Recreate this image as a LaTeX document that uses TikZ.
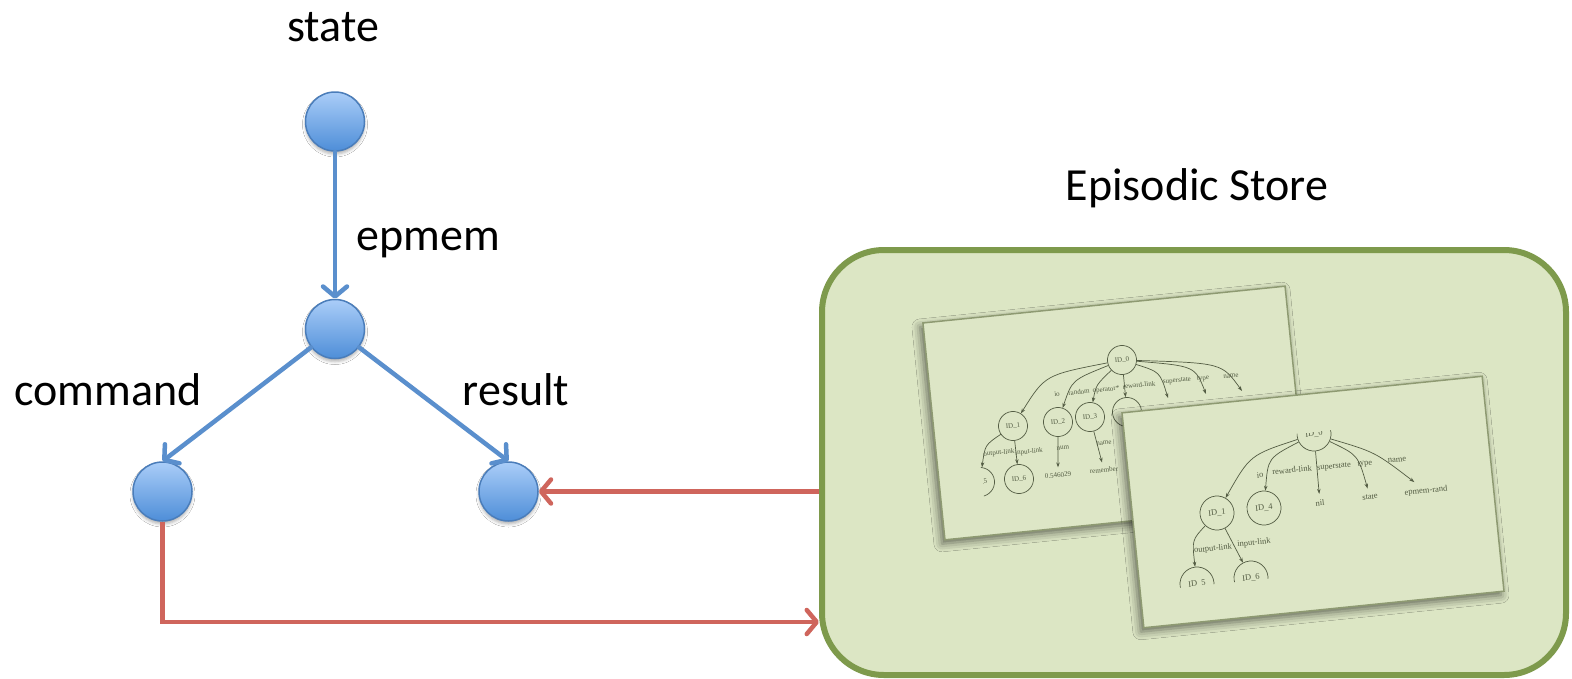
\documentclass[tikz,border=0pt]{standalone}
\usepackage{fontspec}
\setmainfont{Carlito}
\newfontfamily\treefont{Liberation Serif}
\usetikzlibrary{arrows.meta,shadows.blur,calc}

\definecolor{linkblue}{HTML}{5A8FCD}
\definecolor{ballTop}{HTML}{AACDF8}
\definecolor{ballBot}{HTML}{4E8ED8}
\definecolor{ballEdge}{HTML}{4A7DBA}
\definecolor{linkred}{HTML}{CF655C}
\definecolor{storeFill}{HTML}{DCE6C4}
\definecolor{storeEdge}{HTML}{7E9A4C}
\definecolor{paperFill}{HTML}{DDE6C6}
\definecolor{paperEdge}{HTML}{8E9A72}
\definecolor{ink}{HTML}{535C43}

\tikzset{
  ball/.style={circle, minimum size=59pt, inner sep=0pt, draw=ballEdge, line width=1.5pt,
    top color=ballTop, bottom color=ballBot,
    blur shadow={shadow xshift=0pt, shadow yshift=-3pt, shadow blur radius=3pt, shadow opacity=30}},
  lbl/.style={font=\fontsize{46}{50}\selectfont, anchor=base, inner sep=0pt},
  bluelink/.style={draw=linkblue, line width=4.5pt, line cap=round, line join=round,
    -{Straight Barb[length=10pt, width=24pt, round]}},
  redlink/.style={draw=linkred, line width=4.5pt, line join=miter,
    -{Straight Barb[length=10pt, width=24pt, round]}},
  store/.style={rectangle, rounded corners=62pt, draw=storeEdge, fill=storeFill, line width=6pt,
    minimum width=744pt, minimum height=425pt, inner sep=0pt},
  paper/.style={rectangle, draw=paperEdge, fill=paperFill, line width=1.5pt, inner sep=0pt,
    rotate=5.8,
    blur shadow={shadow xshift=-3pt, shadow yshift=-4pt, shadow blur radius=8pt, shadow opacity=55}},
  tnodeA/.style={circle, draw=ink, line width=0.7pt, minimum size=29pt, inner sep=0pt,
    font=\treefont\fontsize{7}{8}\selectfont, text=ink, rotate=5.8},
  tnodeB/.style={circle, draw=ink, line width=0.7pt, minimum size=34pt, inner sep=0pt,
    font=\treefont\fontsize{8.5}{10}\selectfont, text=ink, rotate=5.8},
  tlabA/.style={font=\treefont\fontsize{7}{8}\selectfont, text=ink, inner sep=0pt, rotate=5.8},
  tlabB/.style={font=\treefont\fontsize{8.5}{10}\selectfont, text=ink, inner sep=0pt, rotate=5.8},
  leafA/.style={tlabA, inner sep=5pt},
  leafB/.style={tlabB, inner sep=6pt},
  tedge/.style={draw=ink, line width=0.7pt, -{Stealth[length=5pt, width=3.5pt]}},
}

\begin{document}
\begin{tikzpicture}[x=1pt, y=-1pt]
\useasboundingbox (0,0) rectangle (1572,678);
\fill[white] (0,0) rectangle (1572,678);

% ---------- episodic store ----------
\node[store] (store) at (1194,462.5) {};
\node[lbl] (storetitle) at (1197,200) {Episodic Store};

% first snapshot of working memory
\node[paper, minimum width=364pt, minimum height=218pt] (p1) at (1115,413) {};
\begin{scope}
  \clip ($(p1.north west)!0.12!(p1.north east)$) -- (p1.north east) -- (p1.south east)
        -- ($(p1.south west)!0.12!(p1.south east)$) -- cycle;
  \node[tnodeA] (a0) at (1122,360) {ID\_0};
  \node[tnodeA] (a1) at (1013,426) {ID\_1};
  \node[tnodeA] (a2) at (1058,422) {ID\_2};
  \node[tnodeA] (a3) at (1090,417) {ID\_3};
  \node[tnodeA] (a4) at (1127,412) {};
  \node[tnodeA] (a5) at (980,482) {ID\_5};
  \node[tnodeA] (a6) at (1019,479) {ID\_6};
  \node[leafA] (a2v) at (1058,475) {0.546029};
  \node[leafA] (a3v) at (1104,470) {remember};
  \coordinate (a0ss) at (1168,398);
  \coordinate (a0ty) at (1206,394);
  \coordinate (a0nm) at (1242,391);
  \draw[tedge] (a0) .. controls (1045,375) .. (a1);
  \draw[tedge] (a0) .. controls (1072,380) .. (a2);
  \draw[tedge] (a0) .. controls (1096,385) .. (a3);
  \draw[tedge] (a0) -- (a4);
  \draw[tedge] (a0) .. controls (1160,372) .. (a0ss);
  \draw[tedge] (a0) .. controls (1195,366) .. (a0ty);
  \draw[tedge] (a0) .. controls (1222,363) .. (a0nm);
  \draw[tedge] (a1) .. controls (985,445) .. (a5);
  \draw[tedge] (a1) -- (a6);
  \draw[tedge] (a2) -- (a2v);
  \draw[tedge] (a3) -- (a3v);
  \node[tlabA] (la1) at (1057,394) {io};
  \node[tlabA] (la2) at (1079,392) {random};
  \node[tlabA] (la3) at (1106,390) {operator*};
  \node[tlabA] (la4) at (1139,385) {reward-link};
  \node[tlabA] (la5) at (1177,381) {superstate};
  \node[tlabA] (la6) at (1203,379) {type};
  \node[tlabA] (la7) at (1231,376) {name};
  \node[tlabA] (la8) at (999,453) {output-link};
  \node[tlabA] (la9) at (1029,452) {input-link};
  \node[tlabA] (la10) at (1063,448) {num};
  \node[tlabA] (la11) at (1104,443) {name};
\end{scope}

% second snapshot of working memory
\node[paper, minimum width=362pt, minimum height=216pt] (p2) at (1313,502) {};
\begin{scope}
  \clip ($(p2.north west)!0.18!(p2.south west)$) -- ($(p2.north east)!0.18!(p2.south east)$)
        -- ($(p2.north east)!0.83!(p2.south east)$) -- ($(p2.north west)!0.83!(p2.south west)$) -- cycle;
  \node[tnodeB] (b0) at (1314,434) {ID\_0};
  \node[tnodeB] (b1) at (1217,513) {ID\_1};
  \node[tnodeB] (b4) at (1264,508) {ID\_4};
  \node[tnodeB] (b5) at (1197,584) {ID\_5};
  \node[tnodeB] (b6) at (1251,578) {ID\_6};
  \node[leafB] (bnil) at (1320,503) {nil};
  \node[leafB] (bstate) at (1370,497) {state};
  \node[leafB] (bname) at (1426,491) {epmem-rand};
  \draw[tedge] (b0) .. controls (1250,455) .. (b1);
  \draw[tedge] (b0) .. controls (1268,458) .. (b4);
  \draw[tedge] (b0) -- (bnil);
  \draw[tedge] (b0) .. controls (1358,455) .. (bstate);
  \draw[tedge] (b0) .. controls (1375,452) .. (bname);
  \draw[tedge] (b1) .. controls (1192,540) .. (b5);
  \draw[tedge] (b1) -- (b6);
  \node[tlabB] (lb1) at (1260,475) {io};
  \node[tlabB] (lb2) at (1292,470) {reward-link};
  \node[tlabB] (lb3) at (1334,467) {superstate};
  \node[tlabB] (lb4) at (1365,464) {type};
  \node[tlabB] (lb5) at (1397,460) {name};
  \node[tlabB] (lb6) at (1213,549) {output-link};
  \node[tlabB] (lb7) at (1254,543) {input-link};
\end{scope}

% ---------- working memory graph ----------
\node[ball] (state) at (335,121.5) {};
\node[ball] (epmem) at (335,329) {};
\node[ball] (cmd) at (162.5,491.5) {};
\node[ball] (res) at (508.5,491.5) {};

\node[lbl] (tstate) at (333,41) {state};
\node[lbl] (tepmem) at (428,250) {epmem};
\node[lbl] (tcmd) at (108,405) {command};
\node[lbl] (tres) at (516,405) {result};

\draw[bluelink] (state) -- (epmem);
\draw[bluelink] (epmem) -- (cmd.north);
\draw[bluelink] (epmem) -- (res.north);

\coordinate (turn) at (162.5,622);
\draw[redlink] (res.east -| store.west) -- (res.east);
\draw[redlink] (cmd.south) -- (turn) -- (turn -| store.west);
\end{tikzpicture}
\end{document}
